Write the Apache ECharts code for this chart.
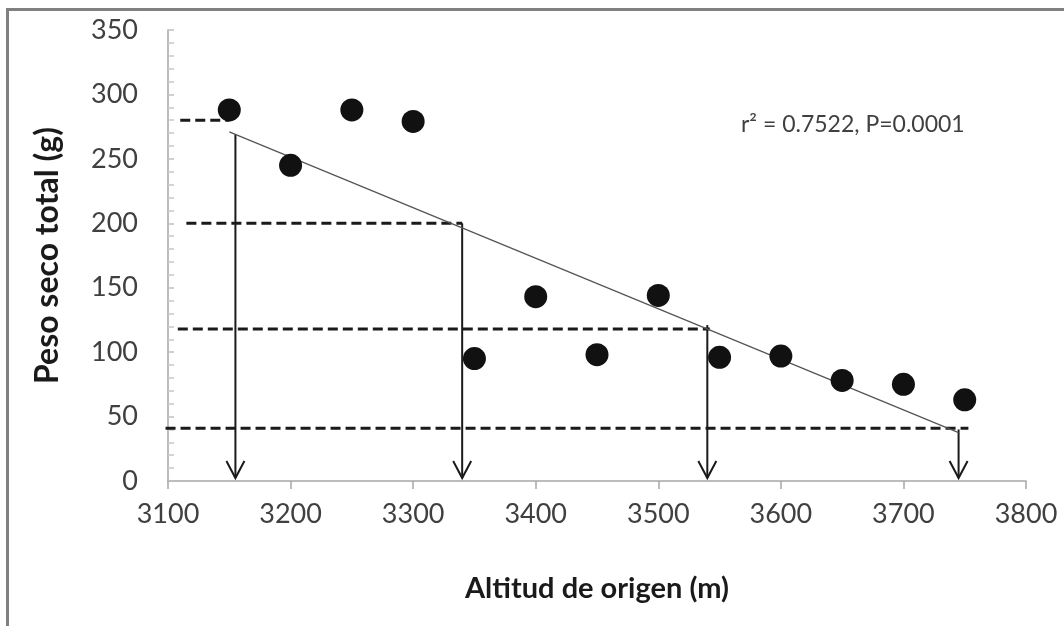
<!DOCTYPE html>
<html>
<head>
<meta charset="utf-8">
<script src="https://cdn.jsdelivr.net/npm/echarts@6/dist/echarts.min.js"></script>
<style>
  html, body { margin: 0; padding: 0; background: #fff; }
  #chart { width: 1064px; height: 626px; }
</style>
</head>
<body>
<div id="chart"></div>
<script>
// Observaciones: altitud de origen (m) y peso seco total (g)
const altitud = [3150, 3200, 3250, 3300, 3350, 3400, 3450, 3500, 3550, 3600, 3650, 3700, 3750];
const peso    = [288, 245, 288, 279, 95, 143, 98, 144, 96, 97, 78, 75, 63];

// Recta de ajuste lineal (extremos)
const ajusteX = [3150, 3745];
const ajusteY = [271, 37.5];

// Líneas guía horizontales discontinuas: nivel y tramo en x
const guiaY  = [280, 200, 118, 41];
const guiaX0 = [3110, 3115, 3108, 3098];
const guiaX1 = [3150, 3340, 3542, 3753];

// Flechas verticales hacia el eje x
const flechaX    = [3155, 3340, 3540, 3745];
const flechaTop  = [269, 200, 121, 40];
const flechaBase = [0, 0, 0, 0];

// Ejes
const xMin = 3100, xMax = 3800, xPaso = 100;
const yMin = 0, yMax = 350, yPaso = 50;
const anotacion = 'r\u00B2 = 0.7522, P=0.0001';

const FONT = 'Lato, "Open Sans", sans-serif';
const chart = echarts.init(document.getElementById('chart'), null, { renderer: 'canvas' });

const puntos = altitud.map((a, i) => [a, peso[i]]);
const ajuste = ajusteX.map((a, i) => [a, ajusteY[i]]);
const guias = guiaY.map((y, i) => [guiaX0[i], guiaX1[i], y]);
const flechas = flechaX.map((x, i) => [x, flechaTop[i], flechaBase[i]]);

chart.setOption({
  animation: false,
  backgroundColor: '#ffffff',
  grid: { left: 168, right: 38, top: 30, bottom: 145, containLabel: false },
  xAxis: {
    type: 'value', min: xMin, max: xMax, interval: xPaso,
    name: 'Altitud de origen (m)', nameLocation: 'middle', nameGap: 93,
    nameTextStyle: { fontFamily: FONT, fontWeight: 'bold', fontSize: 29, color: '#1a1a1a' },
    axisLine: { show: true, lineStyle: { color: '#a6a6a6', width: 1.5 } },
    axisTick: { show: true, inside: false, length: 8, lineStyle: { color: '#a6a6a6', width: 1.5 } },
    axisLabel: { fontFamily: FONT, fontSize: 27, color: '#404040', margin: 20,
                 formatter: function (v) { return String(v); } },
    splitLine: { show: false }
  },
  yAxis: {
    type: 'value', min: yMin, max: yMax, interval: yPaso,
    name: 'Peso seco total (g)', nameLocation: 'middle', nameGap: 104, nameRotate: 90,
    nameTextStyle: { fontFamily: FONT, fontWeight: 'bold', fontSize: 32, color: '#1a1a1a' },
    axisLine: { show: true, lineStyle: { color: '#a6a6a6', width: 1.5 } },
    axisTick: { show: true, inside: true, length: 6, lineStyle: { color: '#c0c0c0', width: 1.5 } },
    minorTick: { show: true, splitNumber: 5, length: 6, lineStyle: { color: '#c8c8c8', width: 1.5 } },
    axisLabel: { fontFamily: FONT, fontSize: 27, color: '#404040', margin: 30 },
    splitLine: { show: false }
  },
  graphic: [
    {
      type: 'rect', silent: true, z: -1,
      shape: { x: 7.5, y: 9.5, width: 1200, height: 800 },
      style: { fill: 'none', stroke: '#808080', lineWidth: 3 }
    },
    {
      type: 'text', left: 741, top: 113, silent: true,
      style: { text: anotacion, fontFamily: FONT, fontSize: 23, fill: '#404040' }
    }
  ],
  series: [
    {
      type: 'custom', name: 'guias', coordinateSystem: 'cartesian2d', z: 3,
      data: guias,
      encode: { x: [0, 1], y: 2 },
      renderItem: function (params, api) {
        const p0 = api.coord([api.value(0), api.value(2)]);
        const p1 = api.coord([api.value(1), api.value(2)]);
        return {
          type: 'line',
          shape: { x1: p0[0], y1: p0[1], x2: p1[0], y2: p1[1] },
          style: { stroke: '#1a1a1a', lineWidth: 3, lineDash: [10, 5] }
        };
      }
    },
    {
      type: 'custom', name: 'flechas', coordinateSystem: 'cartesian2d', z: 3,
      data: flechas,
      encode: { x: 0, y: [1, 2] },
      renderItem: function (params, api) {
        const top = api.coord([api.value(0), api.value(1)]);
        const bot = api.coord([api.value(0), api.value(2)]);
        const tipY = bot[1] - 3;
        const x = top[0];
        return {
          type: 'group',
          children: [
            { type: 'line', shape: { x1: x, y1: top[1], x2: x, y2: tipY },
              style: { stroke: '#1a1a1a', lineWidth: 2 } },
            { type: 'polyline', shape: { points: [[x - 9, tipY - 17], [x, tipY], [x + 9, tipY - 17]] },
              style: { stroke: '#1a1a1a', lineWidth: 2, fill: 'none' } }
          ]
        };
      }
    },
    {
      type: 'line', name: 'ajuste', data: ajuste, symbol: 'none', z: 4,
      lineStyle: { color: '#555555', width: 1.3 }
    },
    {
      type: 'scatter', name: 'observado', data: puntos, symbol: 'circle', symbolSize: 23, z: 5,
      itemStyle: { color: '#111111', opacity: 1 }
    }
  ]
});
</script>
</body>
</html>
